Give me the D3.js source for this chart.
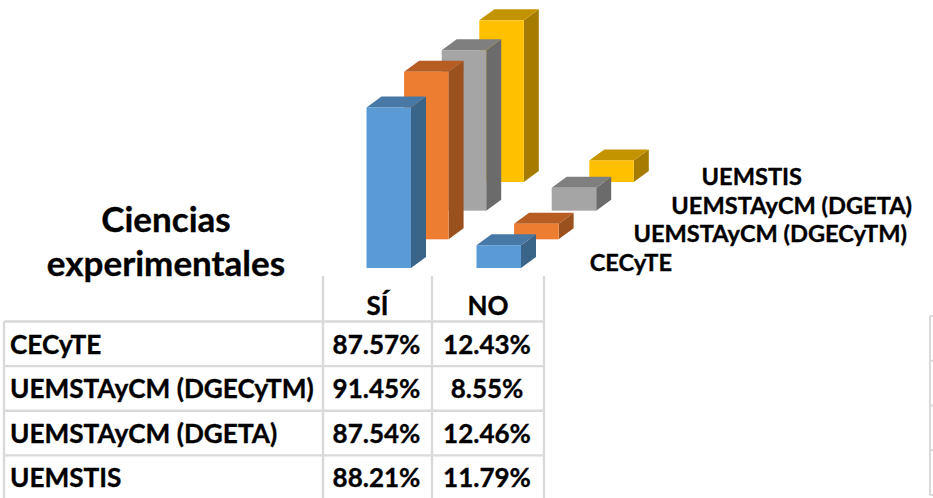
<!DOCTYPE html>
<html><head><meta charset="utf-8">
<script src="https://cdn.jsdelivr.net/npm/d3@7"></script>
<style>html,body{margin:0;padding:0;background:#fff}svg{display:block}text{font-family:Lato,"Open Sans",sans-serif;font-weight:700;fill:#000;stroke:#000;stroke-width:.35px}</style>
</head><body><svg id="c" width="933" height="498"></svg>
<script>
const categories = ["CECyTE","UEMSTAyCM (DGECyTM)","UEMSTAyCM (DGETA)","UEMSTIS"];
const metrics = ["SÍ","NO"];
const siValues = [87.57,91.45,87.54,88.21];
const noValues = [12.43,8.55,12.46,11.79];
const frontColors = ["#5B9BD5","#ED7D31","#A5A5A5","#FFC000"];
const sideColors = ["#3B6588","#9A511E","#6B6B6B","#A67C00"];
const topColors = ["#4878A6","#B55D22","#7F7F7F","#C49300"];
const titleLines = ["Ciencias","experimentales"];

const svg = d3.select("#c");
const depthX = d3.scalePoint().domain(categories).range([0,112.8]);
const depthY = d3.scalePoint().domain(categories).range([268,182]);
const xMetric = d3.scalePoint().domain(metrics).range([366.5,476.5]);
const h = d3.scaleLinear().domain([0,100]).range([0,183.3]);
const barW = 44.5, dx = 15, dy = -11;

const bars = [];
categories.forEach((c,i)=>{ metrics.forEach((m,j)=>{ bars.push({c,i,m,v:j===0?siValues[i]:noValues[i]}); }); });
bars.sort((a,b)=>b.i-a.i);
const poly = d3.line();
const g = svg.append("g").selectAll("g").data(bars).join("g");
g.each(function(d){
  const x0 = xMetric(d.m)+depthX(d.c), x1 = x0+barW, yb = depthY(d.c), yt = yb-h(d.v);
  const s = d3.select(this);
  s.append("path").attr("fill",sideColors[d.i]).attr("d",poly([[x1,yt],[x1+dx,yt+dy],[x1+dx,yb+dy],[x1,yb]])+"Z");
  s.append("path").attr("fill",topColors[d.i]).attr("d",poly([[x0,yt],[x0+dx,yt+dy],[x1+dx,yt+dy],[x1,yt]])+"Z");
  s.append("rect").attr("fill",frontColors[d.i]).attr("x",x0).attr("y",yt).attr("width",barW).attr("height",yb-yt);
});

// series labels
const labelRight = d3.scaleOrdinal().domain(categories).range([672,907,912,802]);
svg.append("g").selectAll("text").data(categories).join("text")
  .attr("x",d=>labelRight(d)).attr("y",d=>depthY(d)+3)
  .attr("text-anchor","end").attr("font-size",23.6).text(d=>d);

// title
svg.append("g").selectAll("text").data(titleLines).join("text")
  .attr("x",166).attr("y",(d,i)=>232+i*44).attr("text-anchor","middle").attr("font-size",35).text(d=>d);

// table
const lineColor = "#D9D9D9";
const rowY = d3.scalePoint().domain(categories.concat("end")).range([321.5,500]);
const colX = [4,323,432,544];
const t = svg.append("g");
t.selectAll("line.h").data(categories).join("line").attr("class","h")
  .attr("x1",colX[0]).attr("x2",colX[3]+1).attr("y1",d=>rowY(d)).attr("y2",d=>rowY(d));
t.selectAll("line.v").data(colX).join("line").attr("class","v")
  .attr("x1",d=>d).attr("x2",d=>d).attr("y1",(d,i)=>i===0?321.5:276).attr("y2",498);
t.selectAll("line").attr("stroke",lineColor).attr("stroke-width",2.4);

// header
t.selectAll("text.m").data(metrics).join("text").attr("class","m")
  .attr("x",(d,i)=>(colX[i+1]+colX[i+2])/2).attr("y",315).attr("text-anchor","middle").attr("font-size",26).text(d=>d);
categories.forEach((c,i)=>{
  const y = rowY(c)+32;
  t.append("text").attr("x",10).attr("y",y).attr("font-size",26.2).text(c);
  t.append("text").attr("x",(colX[1]+colX[2])/2-1).attr("y",y).attr("text-anchor","middle").attr("font-size",26).text(siValues[i].toFixed(2)+"%");
  t.append("text").attr("x",(colX[2]+colX[3])/2-1).attr("y",y).attr("text-anchor","middle").attr("font-size",26).text(noValues[i].toFixed(2)+"%");
});

// clipped neighbour table at the right edge
const edgeRows = d3.scalePoint().domain(d3.range(5)).range([316,495]);
const e = svg.append("g").attr("stroke",lineColor).attr("stroke-width",2);
e.append("line").attr("x1",930).attr("x2",930).attr("y1",edgeRows(0)).attr("y2",edgeRows(4));
e.selectAll("line.s").data(d3.range(5)).join("line").attr("class","s")
  .attr("x1",930).attr("x2",933).attr("y1",d=>edgeRows(d)).attr("y2",d=>edgeRows(d));
</script></body></html>
